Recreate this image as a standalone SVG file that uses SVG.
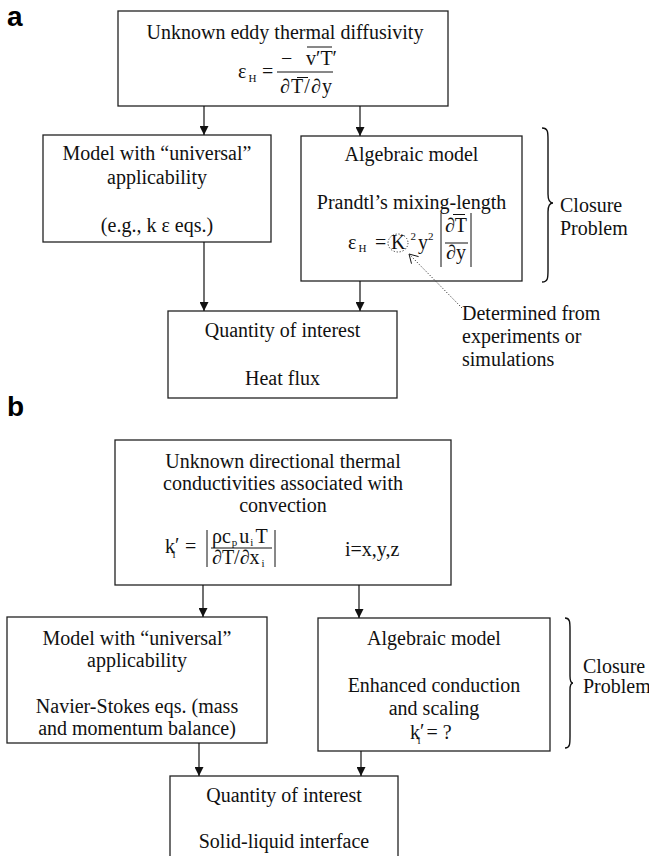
<svg xmlns="http://www.w3.org/2000/svg" width="649" height="856" viewBox="0 0 649 856">
<style>
.bg{fill:#fff}
.box{fill:#fff;stroke:#222;stroke-width:1.3}
.t{font-family:"Liberation Serif","Times New Roman",serif;font-size:20px;fill:#111}
.c{text-anchor:middle}
.s{font-size:11px}
.lbl{font-family:"Liberation Sans",Arial,sans-serif;font-weight:bold;font-size:28px;fill:#000}
.ln{stroke:#111;stroke-width:1.2;fill:none}
.thin{stroke:#111;stroke-width:1;fill:none}
.dot{stroke:#333;stroke-width:1;stroke-dasharray:1.2,1.8;fill:none}
.brace{stroke:#111;stroke-width:1.4;fill:none}
</style>
<defs>
<marker id="ah" viewBox="0 0 10 10" refX="10" refY="5" markerWidth="9" markerHeight="9" markerUnits="userSpaceOnUse" orient="auto">
<path d="M0,0 L10,5 L0,10 z" fill="#111"/>
</marker>
</defs>
<rect class="bg" x="0" y="0" width="649" height="856"/>

<text class="lbl" x="7" y="26">a</text>
<text class="lbl" x="7" y="416">b</text>

<g id="a-unknown">
<rect class="box" x="118" y="11" width="330" height="95"/>
<text class="t c" x="285" y="39">Unknown eddy thermal diffusivity</text>
<text class="t" x="238" y="78">ε<tspan class="s" dx="2" dy="4">H</tspan></text>
<text class="t" x="262" y="78">=</text>
<text class="t" x="281" y="65">−</text>
<text class="t" x="306" y="65">v′T′</text>
<line class="thin" x1="307" y1="47" x2="332" y2="47"/>
<line class="thin" x1="277" y1="72" x2="333" y2="72"/>
<text class="t" x="280" y="93" textLength="52">∂T/∂y</text>
<line class="thin" x1="297" y1="77.5" x2="308" y2="77.5"/>
</g>

<g id="a-universal">
<rect class="box" x="43" y="135" width="228" height="107"/>
<text class="t c" x="157" y="160">Model with “universal”</text>
<text class="t c" x="157" y="184">applicability</text>
<text class="t c" x="157" y="232">(e.g., k ε eqs.)</text>
</g>

<g id="a-algebraic">
<rect class="box" x="301" y="136" width="221" height="145"/>
<text class="t c" x="411.5" y="161">Algebraic model</text>
<text class="t c" x="411.5" y="209">Prandtl’s mixing-length</text>
<text class="t" x="348" y="249">ε<tspan class="s" dx="2" dy="3">H</tspan></text>
<text class="t" x="375" y="249">=</text>
<ellipse class="dot" cx="398" cy="243" rx="10" ry="9"/>
<text class="t" x="391" y="249">K<tspan class="s" dx="5" dy="-9">2</tspan><tspan dx="2" dy="9">y</tspan><tspan class="s" dx="0" dy="-9">2</tspan></text>
<line class="thin" x1="441" y1="213" x2="441" y2="267"/>
<line class="thin" x1="471" y1="213" x2="471" y2="267"/>
<text class="t c" x="456" y="232">∂T</text>
<line class="thin" x1="453" y1="214.5" x2="465" y2="214.5"/>
<line class="thin" x1="445" y1="243" x2="468" y2="243"/>
<text class="t c" x="456" y="259">∂y</text>
</g>

<g id="a-closure">
<path class="brace" d="M542,128 C548,128 548,132 548,140 L548,194 C548,200 550,203 553,203 C550,203 548,206 548,212 L548,270 C548,278 548,282 542,282"/>
<text class="t" x="560" y="212">Closure</text>
<text class="t" x="560" y="235">Problem</text>
</g>

<g id="a-determined">
<text class="t" x="462" y="320">Determined from</text>
<text class="t" x="462" y="343">experiments or</text>
<text class="t" x="462" y="366">simulations</text>
</g>

<g id="a-quantity">
<rect class="box" x="168" y="311" width="229" height="87"/>
<text class="t c" x="282.5" y="337">Quantity of interest</text>
<text class="t c" x="282.5" y="385">Heat flux</text>
</g>

<g id="b-unknown">
<rect class="box" x="115" y="440" width="336" height="145"/>
<text class="t c" x="283" y="468">Unknown directional thermal</text>
<text class="t c" x="283" y="490">conductivities associated with</text>
<text class="t c" x="283" y="512">convection</text>
<text class="t" x="165" y="553">k<tspan dy="-1">′</tspan><tspan class="s" dx="-7" dy="6">i</tspan></text>
<text class="t" x="185" y="553">=</text>
<line class="thin" x1="207" y1="530" x2="207" y2="567"/>
<line class="thin" x1="275" y1="530" x2="275" y2="567"/>
<text class="t" x="212" y="543">ρc<tspan class="s" dx="1" dy="3">p</tspan><tspan dx="2" dy="-3">u</tspan><tspan class="s" dx="1" dy="3">i</tspan><tspan dx="2" dy="-3">T</tspan></text>
<line class="thin" x1="211" y1="548" x2="272" y2="548"/>
<text class="t" x="212" y="564">∂T/∂x<tspan class="s" dx="2" dy="3">i</tspan></text>
<text class="t" x="345" y="556">i=x,y,z</text>
</g>

<g id="b-universal">
<rect class="box" x="7" y="617" width="260" height="126"/>
<text class="t c" x="137" y="645">Model with “universal”</text>
<text class="t c" x="137" y="667">applicability</text>
<text class="t c" x="137" y="713">Navier-Stokes eqs. (mass</text>
<text class="t c" x="137" y="735">and momentum balance)</text>
</g>

<g id="b-algebraic">
<rect class="box" x="318" y="618" width="232" height="133"/>
<text class="t c" x="434" y="645">Algebraic model</text>
<text class="t c" x="434" y="692">Enhanced conduction</text>
<text class="t c" x="434" y="715">and scaling</text>
<text class="t" x="410" y="739">k<tspan dy="-1">′</tspan><tspan class="s" dx="-7" dy="6">i</tspan><tspan dx="6" dy="-5">= ?</tspan></text>
</g>

<g id="b-closure">
<path class="brace" d="M565,618 C570,618 570,622 570,630 L570,676 C570,680 571,683 573,683 C571,683 570,686 570,690 L570,736 C570,744 570,748 565,748"/>
<text class="t" x="583" y="673">Closure</text>
<text class="t" x="583" y="693">Problem</text>
</g>

<g id="b-quantity">
<rect class="box" x="170" y="776" width="228" height="100"/>
<text class="t c" x="284" y="802">Quantity of interest</text>
<text class="t c" x="284" y="848">Solid-liquid interface</text>
</g>

<g id="connectors">
<line class="ln" x1="204" y1="106" x2="204" y2="135" marker-end="url(#ah)"/>
<line class="ln" x1="360" y1="106" x2="360" y2="136" marker-end="url(#ah)"/>
<line class="ln" x1="204" y1="242" x2="204" y2="311" marker-end="url(#ah)"/>
<line class="ln" x1="360" y1="281" x2="360" y2="311" marker-end="url(#ah)"/>
<line class="dot" x1="462" y1="308" x2="410" y2="255"/>
<polyline class="thin" points="411.5,263.7 409,254 418.6,256.6"/>
<line class="ln" x1="203" y1="585" x2="203" y2="617" marker-end="url(#ah)"/>
<line class="ln" x1="359" y1="585" x2="359" y2="618" marker-end="url(#ah)"/>
<line class="ln" x1="199" y1="743" x2="199" y2="776" marker-end="url(#ah)"/>
<line class="ln" x1="361" y1="751" x2="361" y2="776" marker-end="url(#ah)"/>
</g>
</svg>
